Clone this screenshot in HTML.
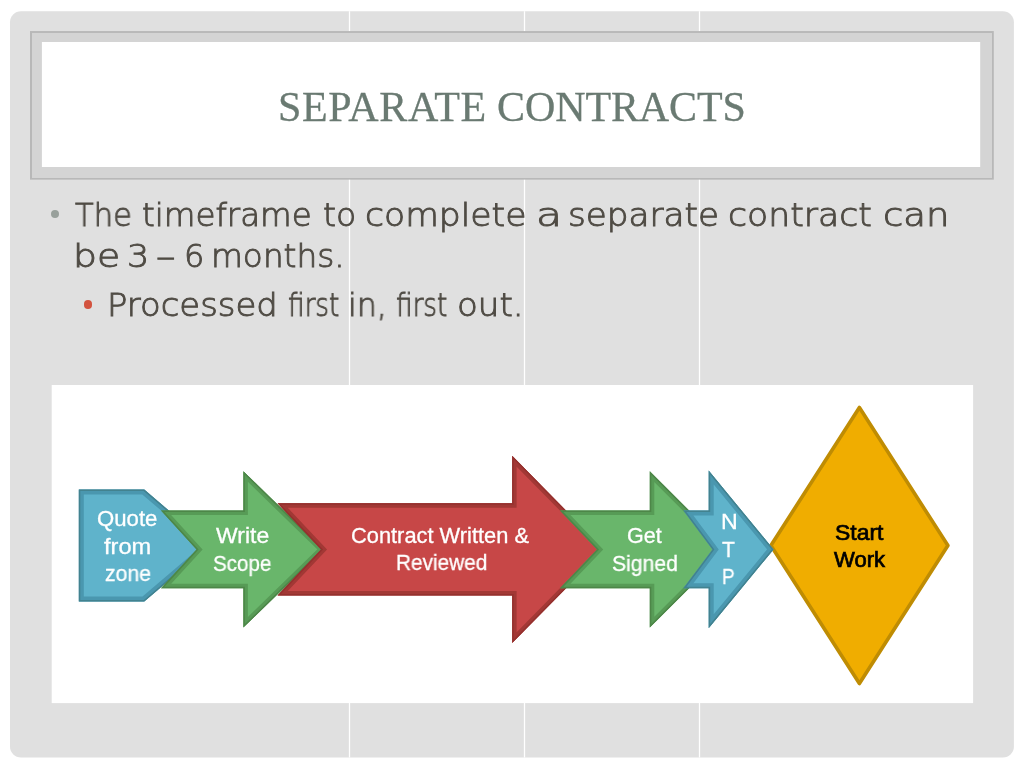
<!DOCTYPE html>
<html lang="en">
<head>
<meta charset="utf-8">
<title>Separate Contracts</title>
<style>
html,body{margin:0;padding:0;background:#fff;}
body{width:1024px;height:768px;position:relative;overflow:hidden;font-family:"Liberation Sans","DejaVu Sans",sans-serif;}
.bg{position:absolute;left:0;top:0;}
h1,p,ul,li{margin:0;padding:0;font-weight:normal;font-size:0;list-style:none;}
.w{position:absolute;display:block;white-space:pre;line-height:1;transform-origin:0 0;will-change:transform;}
.t{font:42px 'Liberation Serif','DejaVu Serif',serif;-webkit-text-stroke:0.3px #6a7a72;color:#6a7a72;}
.t,.b,.d,.k{font-variant-ligatures:none;font-kerning:normal;}
.b{font:200 32px 'DejaVu Sans','Liberation Sans',sans-serif;-webkit-text-stroke:0.9px #4f4b44;color:#4f4b44;}
.d{font:21.5px 'Liberation Sans','DejaVu Sans',sans-serif;-webkit-text-stroke:0.3px #fff;color:#fff;}
.k{font:21.5px 'Liberation Sans','DejaVu Sans',sans-serif;-webkit-text-stroke:0.7px #000;color:#000;}
.dot{position:absolute;border-radius:50%;}
.d1{left:50.6px;top:210.1px;width:8.4px;height:8.4px;background:#98a09b;}
.d2{left:83.5px;top:300.2px;width:8.4px;height:8.4px;background:#d3533f;}
.fig{position:absolute;left:52px;top:385px;width:921px;height:318px;}
.fig svg{position:absolute;left:0;top:0;}
</style>
</head>
<body>
<svg class="bg" width="1024" height="768" viewBox="0 0 1024 768" aria-hidden="true">
<rect x="10" y="11.25" width="1003.9" height="746.25" rx="11" ry="11" fill="#e0e0e0"/>
<rect x="348.85" y="11.25" width="1.3" height="746.25" fill="#fff"/>
<rect x="523.85" y="11.25" width="1.3" height="746.25" fill="#fff"/>
<rect x="698.85" y="11.25" width="1.3" height="746.25" fill="#fff"/>
<rect x="30" y="31.05" width="963.8" height="148.6" fill="#b8b8b8"/>
<rect x="32" y="32.95" width="960" height="145.05" fill="#d4d4d4"/>
<rect x="41.9" y="42" width="938.3" height="125" fill="#fff"/>
<rect x="51.7" y="385" width="921.4" height="318.1" fill="#fff"/>
</svg>
<h1><span class="w t" style="left:278.25px;top:83px;letter-spacing:0.607px;">SEPARATE</span> <span class="w t" style="left:496.80px;top:83px;letter-spacing:-0.100px;">CONTRACTS</span></h1>
<ul>
<li><span class="dot d1"></span><span class="w b" style="left:74.70px;top:196px;transform:scaleX(0.9578);">The</span> <span class="w b" style="left:142.48px;top:196px;transform:scaleX(1.0152);">timeframe</span> <span class="w b" style="left:322.72px;top:196px;transform:scaleX(1.0345);">to</span> <span class="w b" style="left:365.17px;top:196px;transform:scaleX(1.0799);">complete</span> <span class="w b" style="left:536.08px;top:196px;transform:scaleX(1.3333);">a</span> <span class="w b" style="left:567.86px;top:196px;transform:scaleX(1.0688);">separate</span> <span class="w b" style="left:728.42px;top:196px;transform:scaleX(1.0821);">contract</span> <span class="w b" style="left:882.59px;top:196px;transform:scaleX(1.1574);">can</span>
<span class="w b" style="left:72.96px;top:237px;transform:scaleX(1.1786);">be</span> <span class="w b" style="left:127.31px;top:237px;transform:scaleX(1.0938);">3</span> <span class="w b" style="left:155.79px;top:237px;transform:scaleX(1.2143);">–</span> <span class="w b" style="left:184.00px;top:237px;">6</span> <span class="w b" style="left:210.68px;top:237px;transform:scaleX(1.0222);">months.</span>
<ul>
<li><span class="dot d2"></span><span class="w b" style="left:106.58px;top:286px;transform:scaleX(1.0577);">Processed</span> <span class="w b" style="left:287.93px;top:286px;transform:scaleX(0.8197);">first</span> <span class="w b" style="left:347.55px;top:286px;transform:scaleX(0.9848);">in,</span> <span class="w b" style="left:396.18px;top:286px;transform:scaleX(0.8197);">first</span> <span class="w b" style="left:456.62px;top:286px;transform:scaleX(1.0658);">out.</span></li>
</ul>
</li>
</ul>
<div class="fig">
<svg width="921" height="318" viewBox="52 385 921 318" role="img" aria-label="Process flow: Quote from zone, Write Scope, Contract Written and Reviewed, Get Signed, NTP, Start Work">
<defs>
<clipPath id="cb1"><polygon points="78.8,489.6 144.3,489.6 210,545.6 144.3,601.6 78.8,601.6"/></clipPath>
<clipPath id="cg1"><polygon points="161,510.6 243.4,510.6 243.4,471.2 323.7,549.4 243.4,627.6 243.4,588.2 161,588.2 196.5,549.4"/></clipPath>
<clipPath id="cr1"><polygon points="277.5,503.3 512.2,503.3 512.2,455.8 604.3,549.4 512.2,643 512.2,595.5 277.5,595.5 321,549.4"/></clipPath>
<clipPath id="cg2"><polygon points="560,510.6 649.8,510.6 649.8,471.2 728,549.4 649.8,627.6 649.8,588.2 560,588.2 597,549.4"/></clipPath>
<clipPath id="cb2"><polygon points="683.4,510.5 708.7,510.5 708.7,470.6 773.6,549.4 708.7,628.2 708.7,588.3 683.4,588.3 712.5,549.4"/></clipPath>
</defs>
<polygon points="770.9,545.5 859.4,407.5 947.9,545.5 859.4,683.5" fill="#f0ad00" stroke="#bf8c03" stroke-width="3.6" stroke-linejoin="round"/>
<g clip-path="url(#cb1)" stroke-linejoin="miter" stroke-miterlimit="10"><polygon points="78.8,489.6 144.3,489.6 210,545.6 144.3,601.6 78.8,601.6" fill="#5fb3cb" stroke="#4a97af" stroke-width="10"/><polygon points="78.8,489.6 144.3,489.6 210,545.6 144.3,601.6 78.8,601.6" fill="none" stroke="#42828f" stroke-width="3"/></g>
<g clip-path="url(#cg1)" stroke-linejoin="miter" stroke-miterlimit="10"><polygon points="161,510.6 243.4,510.6 243.4,471.2 323.7,549.4 243.4,627.6 243.4,588.2 161,588.2 196.5,549.4" fill="#69b66b" stroke="#579b56" stroke-width="9"/><polygon points="161,510.6 243.4,510.6 243.4,471.2 323.7,549.4 243.4,627.6 243.4,588.2 161,588.2 196.5,549.4" fill="none" stroke="#4d8648" stroke-width="3"/></g>
<g clip-path="url(#cr1)" stroke-linejoin="miter" stroke-miterlimit="10"><polygon points="277.5,503.3 512.2,503.3 512.2,455.8 604.3,549.4 512.2,643 512.2,595.5 277.5,595.5 321,549.4" fill="#c74747" stroke="#a23835" stroke-width="8.8"/><polygon points="277.5,503.3 512.2,503.3 512.2,455.8 604.3,549.4 512.2,643 512.2,595.5 277.5,595.5 321,549.4" fill="none" stroke="#94312e" stroke-width="3"/></g>
<g clip-path="url(#cg2)" stroke-linejoin="miter" stroke-miterlimit="10"><polygon points="560,510.6 649.8,510.6 649.8,471.2 728,549.4 649.8,627.6 649.8,588.2 560,588.2 597,549.4" fill="#69b66b" stroke="#579b56" stroke-width="9"/><polygon points="560,510.6 649.8,510.6 649.8,471.2 728,549.4 649.8,627.6 649.8,588.2 560,588.2 597,549.4" fill="none" stroke="#4d8648" stroke-width="3"/></g>
<g clip-path="url(#cb2)" stroke-linejoin="miter" stroke-miterlimit="10"><polygon points="683.4,510.5 708.7,510.5 708.7,470.6 773.6,549.4 708.7,628.2 708.7,588.3 683.4,588.3 712.5,549.4" fill="#5fb3cb" stroke="#4a97af" stroke-width="10"/><polygon points="683.4,510.5 708.7,510.5 708.7,470.6 773.6,549.4 708.7,628.2 708.7,588.3 683.4,588.3 712.5,549.4" fill="none" stroke="#42828f" stroke-width="3"/></g>
</svg>
</div>
<div><span class="w d" style="left:96.97px;top:507px;transform:scaleX(1.0307);">Quote</span> <span class="w d" style="left:104.00px;top:535px;transform:scaleX(1.0976);">from</span> <span class="w d" style="left:104.80px;top:562px;transform:scaleX(0.9848);">zone</span></div>
<div><span class="w d" style="left:215.90px;top:524px;transform:scaleX(1.0694);">Write</span> <span class="w d" style="left:212.79px;top:552px;transform:scaleX(0.9575);">Scope</span></div>
<div><span class="w d" style="left:351.08px;top:524px;transform:scaleX(1.0154);">Contract Written &amp;</span> <span class="w d" style="left:395.63px;top:551px;transform:scaleX(0.9667);">Reviewed</span></div>
<div><span class="w d" style="left:627.21px;top:524px;transform:scaleX(0.9912);">Get</span> <span class="w d" style="left:611.52px;top:552px;transform:scaleX(0.9846);">Signed</span></div>
<div><span class="w d" style="left:721.12px;top:510px;transform:scaleX(1.0769);">N</span> <span class="w d" style="left:721.60px;top:538px;transform:scaleX(0.9846);">T</span> <span class="w d" style="left:721.92px;top:565px;transform:scaleX(0.8769);">P</span></div>
<div><span class="w k" style="left:835.30px;top:521px;transform:scaleX(1.0652);">Start</span> <span class="w k" style="left:834.00px;top:548px;transform:scaleX(1.0240);">Work</span></div>
</body>
</html>
